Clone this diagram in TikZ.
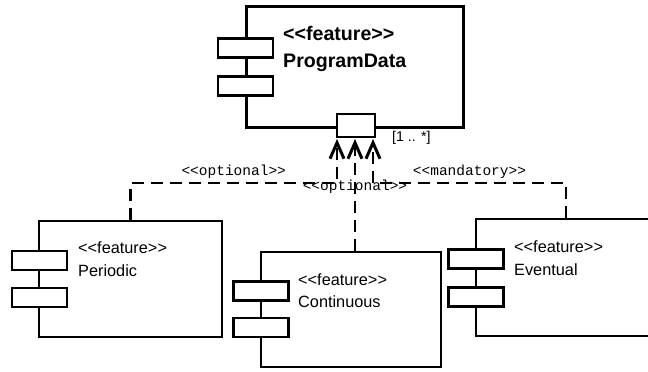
\documentclass[tikz,border=0pt]{standalone}
\usepackage{fontspec}
\setmainfont{Liberation Sans}[Ligatures=TeXOff]
\setmonofont{Liberation Mono}
\usetikzlibrary{arrows.meta}

\begin{document}
\begin{tikzpicture}[x=1pt,y=-1pt,comp/.style={rectangle,draw,line width=2.5pt,fill=white,inner sep=0pt},tab/.style={rectangle,draw,line width=2.5pt,fill=white,minimum width=55pt,minimum height=19pt,inner sep=0pt},stereo/.style={anchor=base west,inner sep=0pt,font=\fontsize{16.3}{18}\selectfont},bigstereo/.style={anchor=base west,inner sep=0pt,font=\fontsize{19.6}{22}\selectfont\bfseries},dep/.style={line width=2.5pt,dash pattern=on 12pt off 7pt,-{Straight Barb[length=16pt,width=14pt,line width=3pt]}},deplabel/.style={font=\fontsize{14.5}{16}\selectfont\ttfamily}]
\useasboundingbox (0,0) rectangle (648,372);
\node[comp,minimum width=217pt,minimum height=121pt,line width=3pt] (data) at (354.5,66.5) {};
\node[comp,minimum width=183pt,minimum height=116pt] (periodic) at (130.5,279) {};
\node[comp,minimum width=180pt,minimum height=115pt] (continuous) at (351,309.5) {};
\node[comp,minimum width=180pt,minimum height=117pt] (eventual) at (566,277.5) {};
\node[tab] (data-tab1) at (245.5,48) {};
\node[tab] (data-tab2) at (245.5,86) {};
\node[tab] (periodic-tab1) at (39.5,260.5) {};
\node[tab] (periodic-tab2) at (39.5,297.5) {};
\node[tab] (continuous-tab1) at (261,291) {};
\node[tab] (continuous-tab2) at (261,327.5) {};
\node[tab] (eventual-tab1) at (476,259) {};
\node[tab] (eventual-tab2) at (476,297) {};
\node[bigstereo] (data-st) at (283,40) {<<feature>>};
\node[bigstereo] (data-name) at (283,67) {ProgramData};
\node[stereo] (periodic-st) at (78,253) {<<feature>>};
\node[stereo] (periodic-name) at (78,276) {Periodic};
\node[stereo] (continuous-st) at (298,285) {<<feature>>};
\node[stereo] (continuous-name) at (298,307) {Continuous};
\node[stereo] (eventual-st) at (514,252) {<<feature>>};
\node[stereo] (eventual-name) at (514,275) {Eventual};
\node[comp,minimum width=38pt,minimum height=23pt] (port) at (356,125.5) {};
\node[anchor=base west,inner sep=0pt,font=\fontsize{14.2}{16}\selectfont] (mult) at (392,141) {[1 .. *]};
\coordinate (in1) at (337,139);
\coordinate (in2) at (355,139);
\coordinate (in3) at (373,139);
\coordinate (kneeL) at (337,183);
\coordinate (kneeR) at (373,183);
\draw[dep] (periodic.north) |- node[pos=0.75,above,deplabel] {<<optional>>} (kneeL) -- (in1);
\draw[dep] (in2 |- continuous.north) -- node[pos=0.57,deplabel] {<<optional>>} (in2);
\draw[dep] (eventual.north) |- node[pos=0.75,above,deplabel] {<<mandatory>>} (kneeR) -- (in3);
\end{tikzpicture}
\end{document}
